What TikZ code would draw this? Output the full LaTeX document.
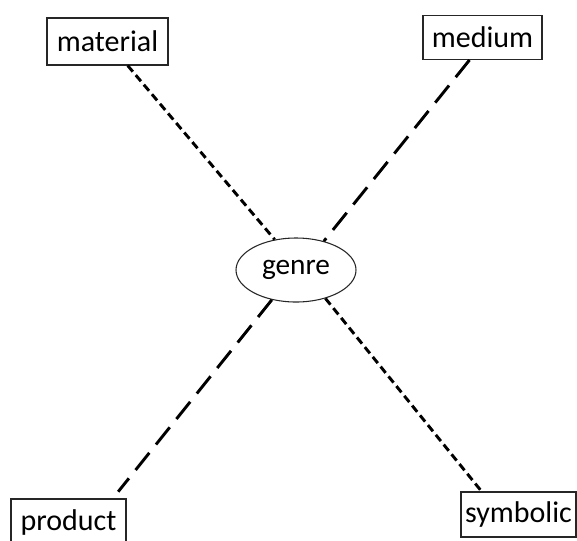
\documentclass[tikz,border=0pt]{standalone}
\usepackage{fontspec}
\setmainfont{Carlito}
\usetikzlibrary{shapes.geometric}
\begin{document}
\begin{tikzpicture}[x=0.75pt,y=-0.75pt,
  box/.style={draw=black!85,line width=0.8pt,inner sep=0pt,font=\fontsize{22.5}{27}\selectfont},
  oval/.style={ellipse,draw=black!85,line width=0.8pt,inner sep=0pt,font=\fontsize{22}{26}\selectfont},
  shortdash/.style={line width=2.2pt,dash pattern=on 6pt off 3.4pt},
  longdash/.style={line width=2.2pt,dash pattern=on 16.5pt off 8pt}]
\useasboundingbox (0,0) rectangle (577,540);
\node[box,minimum width=90.75pt,minimum height=35.25pt] (material) at (107.5,41.5) {material};
\node[box,minimum width=89.25pt,minimum height=33pt] (medium) at (482.5,37.5) {medium};
\node[oval,minimum width=90pt,minimum height=48pt] (genre) at (296,270) {genre};
\node[box,minimum width=86.25pt,minimum height=34.5pt] (product) at (68.5,522) {product};
\node[box,minimum width=86.25pt,minimum height=33.75pt] (symbolic) at (518.5,514.5) {symbolic};
\draw[shortdash] (material.-50) -- (genre.125);
\draw[longdash] (medium.-120) -- (genre.46);
\draw[longdash,shorten >=6.5pt] (genre.231) -- (product.28.3);
\draw[shortdash] (genre.-44) -- (symbolic.148);
\end{tikzpicture}
\end{document}
